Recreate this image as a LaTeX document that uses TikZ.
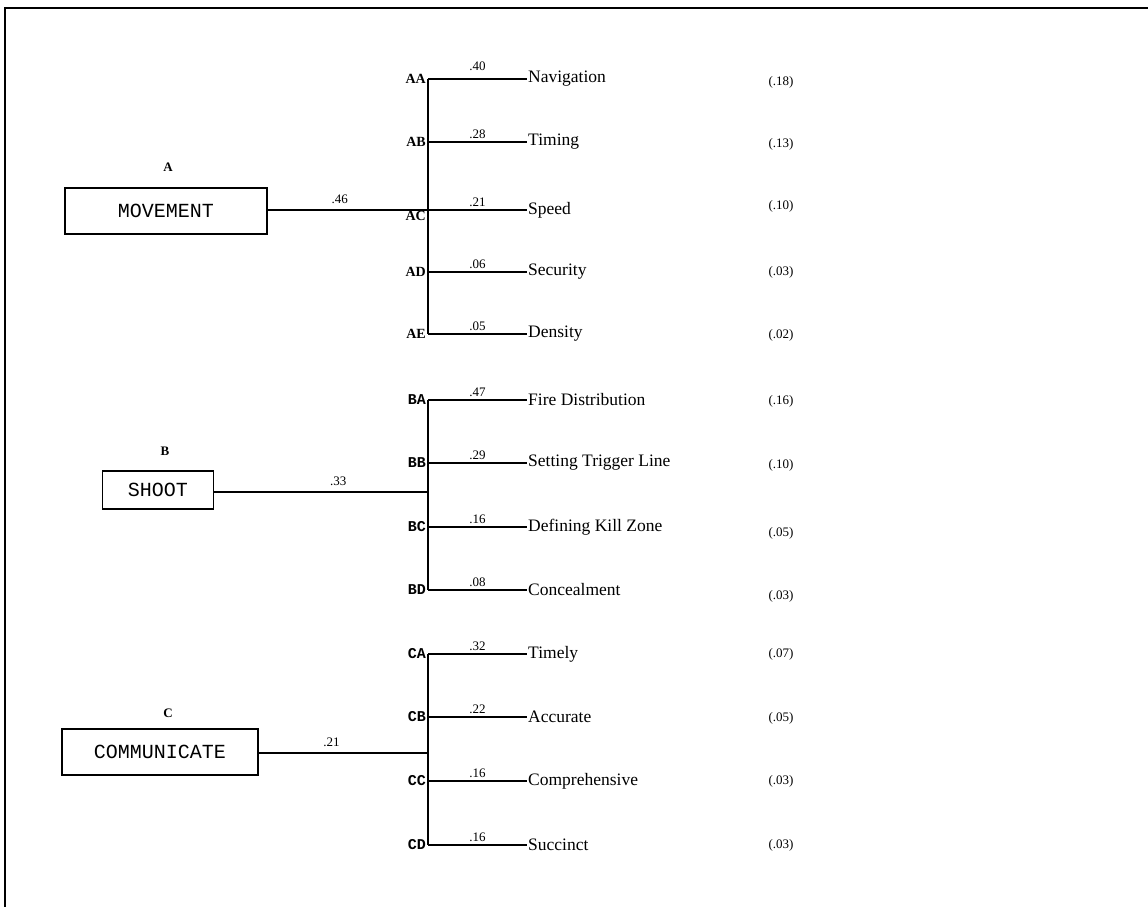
\documentclass[tikz,border=0pt]{standalone}
\usepackage{fontspec}
\setmainfont{Liberation Serif}
\setmonofont{Liberation Mono}
\begin{document}
\begin{tikzpicture}[x=1pt,y=-1pt,
  conn/.style={line width=1.5pt},
  catbox/.style={draw, line width=1.5pt, font=\ttfamily\fontsize{20}{24}\selectfont, inner sep=0pt},
  catlbl/.style={font=\bfseries\fontsize{13}{15}\selectfont},
  item/.style={anchor=west, inner sep=1pt, font=\fontsize{17.5}{20}\selectfont},
  wt/.style={above=1.5pt, inner sep=1pt, font=\fontsize{13}{15}\selectfont},
  mwt/.style={above=5pt, inner sep=1pt, font=\fontsize{13}{15}\selectfont},
  code/.style={anchor=east, inner sep=2pt, font=\bfseries\fontsize{14}{16}\selectfont},
  codem/.style={anchor=east, inner sep=2pt, font=\ttfamily\bfseries\fontsize{15}{17}\selectfont},
  pct/.style={font=\fontsize{13}{15}\selectfont}]
\useasboundingbox (0,0) rectangle (1148,907);
\draw[line width=2pt] (5,907) -- (5,8) -- (1148,8);

% ---------- categories ----------
\node[catbox, minimum width=202pt, minimum height=46pt] (A) at (166,211) {MOVEMENT};
\node[catlbl] (Al) at (168,167) {A};
\node[catbox, minimum width=111pt, minimum height=38pt] (B) at (158,490) {SHOOT};
\node[catlbl] (Bl) at (165,451) {B};
\node[catbox, minimum width=196pt, minimum height=46pt] (C) at (160,752) {COMMUNICATE};
\node[catlbl] (Cl) at (168,713) {C};

% ---------- junctions ----------
\coordinate (jA) at (428,210);
\coordinate (jB) at (428,492);
\coordinate (jC) at (428,753);
\draw[conn] (A.east |- jA) -- node[mwt, pos=0.45]{.46} (jA);
\draw[conn] (B.east |- jB) -- node[mwt, pos=0.58]{.33} (jB);
\draw[conn] (C.east |- jC) -- node[mwt, pos=0.43]{.21} (jC);

% ---------- A branches ----------
\coordinate (AA) at (428,79);
\coordinate (AB) at (428,142);
\coordinate (AC) at (428,210);
\coordinate (AD) at (428,272);
\coordinate (AE) at (428,334);
\draw[conn] (AA) -- (AE);
\node[code] at (AA) {AA};
\node[code] at (AB) {AB};
\node[code, anchor=north east] at ([yshift=1pt]AC) {AC};
\node[code] at (AD) {AD};
\node[code] at (AE) {AE};
\node[item] (nav) at (527,79) {Navigation};
\node[item] (tim) at (527,142) {Timing};
\node[item] (spd) at (527,210) {Speed};
\node[item] (sec) at (527,272) {Security};
\node[item] (den) at (527,334) {Density};
\draw[conn] (AA) -- node[wt, above=5pt]{.40} (nav.west);
\draw[conn] (AB) -- node[wt]{.28} (tim.west);
\draw[conn] (AC) -- node[wt]{.21} (spd.west);
\draw[conn] (AD) -- node[wt]{.06} (sec.west);
\draw[conn] (AE) -- node[wt]{.05} (den.west);
\node[pct] (pAA) at (781,82) {(.18)};
\node[pct] (pAB) at (781,144) {(.13)};
\node[pct] (pAC) at (781,206) {(.10)};
\node[pct] (pAD) at (781,272) {(.03)};
\node[pct] (pAE) at (781,335) {(.02)};

% ---------- B branches ----------
\coordinate (BA) at (428,400);
\coordinate (BB) at (428,463);
\coordinate (BC) at (428,527);
\coordinate (BD) at (428,590);
\draw[conn] (BA) -- (BD);
\node[codem] at (BA) {BA};
\node[codem] at (BB) {BB};
\node[codem] at (BC) {BC};
\node[codem] at (BD) {BD};
\node[item] (fir) at (527,400) {Fire Distribution};
\node[item] (set) at (527,463) {Setting Trigger Line};
\node[item] (def) at (527,527) {Defining Kill Zone};
\node[item] (con) at (527,590) {Concealment};
\draw[conn] (BA) -- node[wt]{.47} (fir.west);
\draw[conn] (BB) -- node[wt]{.29} (set.west);
\draw[conn] (BC) -- node[wt]{.16} (def.west);
\draw[conn] (BD) -- node[wt]{.08} (con.west);
\node[pct] (pBA) at (781,401) {(.16)};
\node[pct] (pBB) at (781,465) {(.10)};
\node[pct] (pBC) at (781,533) {(.05)};
\node[pct] (pBD) at (781,596) {(.03)};

% ---------- C branches ----------
\coordinate (CA) at (428,654);
\coordinate (CB) at (428,717);
\coordinate (CC) at (428,781);
\coordinate (CD) at (428,845);
\draw[conn] (CA) -- (CD);
\node[codem] at (CA) {CA};
\node[codem] at (CB) {CB};
\node[codem] at (CC) {CC};
\node[codem] at (CD) {CD};
\node[item] (tml) at (527,654) {Timely};
\node[item] (acc) at (527,717) {Accurate};
\node[item] (cmp) at (527,781) {Comprehensive};
\node[item] (suc) at (527,845) {Succinct};
\draw[conn] (CA) -- node[wt]{.32} (tml.west);
\draw[conn] (CB) -- node[wt]{.22} (acc.west);
\draw[conn] (CC) -- node[wt]{.16} (cmp.west);
\draw[conn] (CD) -- node[wt]{.16} (suc.west);
\node[pct] (pCA) at (781,654) {(.07)};
\node[pct] (pCB) at (781,718) {(.05)};
\node[pct] (pCC) at (781,781) {(.03)};
\node[pct] (pCD) at (781,845) {(.03)};
\end{tikzpicture}
\end{document}
